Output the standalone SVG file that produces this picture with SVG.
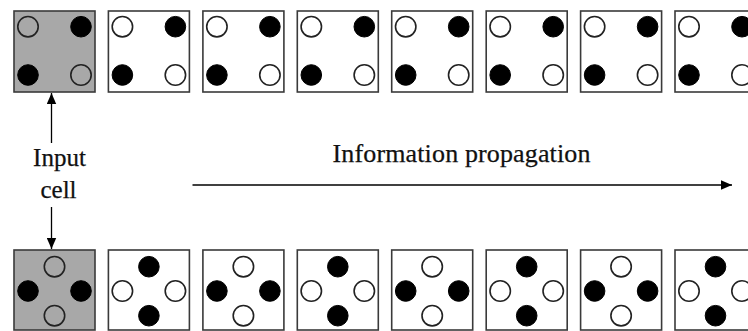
<svg xmlns="http://www.w3.org/2000/svg" width="748" height="331" viewBox="0 0 748 331">
<defs>
<style>
.box{fill:#fff;stroke:#3a3a3a;stroke-width:1.6}
.box.in{fill:#a8a8a8}
.o{fill:none;stroke:#222;stroke-width:1.6}
.f{fill:#000;stroke:#000;stroke-width:1}
.lbl{font-family:"Liberation Serif","Times New Roman",serif;fill:#111;stroke:#111;stroke-width:0.25}
.ln{stroke:#000;stroke-width:1.3;fill:none}
</style>
<marker id="ah" viewBox="0 0 11 10" refX="11" refY="5" markerWidth="11" markerHeight="10" markerUnits="userSpaceOnUse" orient="auto">
<path d="M0,0.3 L11,5 L0,9.7 Z" fill="#000"/>
</marker>
</defs>
<rect width="748" height="331" fill="#fff"/>
<g id="top-row">
<g id="t1"><rect class="box in" x="14" y="11" width="81" height="81"/><circle class="o" cx="28" cy="26.7" r="10.2"/><circle class="f" cx="81" cy="26.7" r="10.3"/><circle class="f" cx="28" cy="75" r="10.3"/><circle class="o" cx="81" cy="75" r="10.2"/></g>
<g id="t2"><rect class="box" x="108.4" y="11" width="81" height="81"/><circle class="o" cx="122.4" cy="26.7" r="10.2"/><circle class="f" cx="175.4" cy="26.7" r="10.3"/><circle class="f" cx="122.4" cy="75" r="10.3"/><circle class="o" cx="175.4" cy="75" r="10.2"/></g>
<g id="t3"><rect class="box" x="202.9" y="11" width="81" height="81"/><circle class="o" cx="216.9" cy="26.7" r="10.2"/><circle class="f" cx="269.9" cy="26.7" r="10.3"/><circle class="f" cx="216.9" cy="75" r="10.3"/><circle class="o" cx="269.9" cy="75" r="10.2"/></g>
<g id="t4"><rect class="box" x="297.3" y="11" width="81" height="81"/><circle class="o" cx="311.3" cy="26.7" r="10.2"/><circle class="f" cx="364.3" cy="26.7" r="10.3"/><circle class="f" cx="311.3" cy="75" r="10.3"/><circle class="o" cx="364.3" cy="75" r="10.2"/></g>
<g id="t5"><rect class="box" x="391.7" y="11" width="81" height="81"/><circle class="o" cx="405.7" cy="26.7" r="10.2"/><circle class="f" cx="458.7" cy="26.7" r="10.3"/><circle class="f" cx="405.7" cy="75" r="10.3"/><circle class="o" cx="458.7" cy="75" r="10.2"/></g>
<g id="t6"><rect class="box" x="486.2" y="11" width="81" height="81"/><circle class="o" cx="500.2" cy="26.7" r="10.2"/><circle class="f" cx="553.2" cy="26.7" r="10.3"/><circle class="f" cx="500.2" cy="75" r="10.3"/><circle class="o" cx="553.2" cy="75" r="10.2"/></g>
<g id="t7"><rect class="box" x="580.6" y="11" width="81" height="81"/><circle class="o" cx="594.6" cy="26.7" r="10.2"/><circle class="f" cx="647.6" cy="26.7" r="10.3"/><circle class="f" cx="594.6" cy="75" r="10.3"/><circle class="o" cx="647.6" cy="75" r="10.2"/></g>
<g id="t8"><rect class="box" x="675" y="11" width="81" height="81"/><circle class="o" cx="689" cy="26.7" r="10.2"/><circle class="f" cx="742" cy="26.7" r="10.3"/><circle class="f" cx="689" cy="75" r="10.3"/><circle class="o" cx="742" cy="75" r="10.2"/></g>
</g>
<g id="bottom-row">
<g id="b1"><rect class="box in" x="14" y="250" width="81" height="80"/><circle class="o" cx="54.5" cy="266.7" r="10.2"/><circle class="f" cx="28" cy="291" r="10.3"/><circle class="f" cx="81" cy="291" r="10.3"/><circle class="o" cx="54.5" cy="315.7" r="10.2"/></g>
<g id="b2"><rect class="box" x="108.4" y="250" width="81" height="80"/><circle class="f" cx="148.9" cy="266.7" r="10.3"/><circle class="o" cx="122.4" cy="291" r="10.2"/><circle class="o" cx="175.4" cy="291" r="10.2"/><circle class="f" cx="148.9" cy="315.7" r="10.3"/></g>
<g id="b3"><rect class="box" x="202.9" y="250" width="81" height="80"/><circle class="o" cx="243.4" cy="266.7" r="10.2"/><circle class="f" cx="216.9" cy="291" r="10.3"/><circle class="f" cx="269.9" cy="291" r="10.3"/><circle class="o" cx="243.4" cy="315.7" r="10.2"/></g>
<g id="b4"><rect class="box" x="297.3" y="250" width="81" height="80"/><circle class="f" cx="337.8" cy="266.7" r="10.3"/><circle class="o" cx="311.3" cy="291" r="10.2"/><circle class="o" cx="364.3" cy="291" r="10.2"/><circle class="f" cx="337.8" cy="315.7" r="10.3"/></g>
<g id="b5"><rect class="box" x="391.7" y="250" width="81" height="80"/><circle class="o" cx="432.2" cy="266.7" r="10.2"/><circle class="f" cx="405.7" cy="291" r="10.3"/><circle class="f" cx="458.7" cy="291" r="10.3"/><circle class="o" cx="432.2" cy="315.7" r="10.2"/></g>
<g id="b6"><rect class="box" x="486.2" y="250" width="81" height="80"/><circle class="f" cx="526.7" cy="266.7" r="10.3"/><circle class="o" cx="500.2" cy="291" r="10.2"/><circle class="o" cx="553.2" cy="291" r="10.2"/><circle class="f" cx="526.7" cy="315.7" r="10.3"/></g>
<g id="b7"><rect class="box" x="580.6" y="250" width="81" height="80"/><circle class="o" cx="621.1" cy="266.7" r="10.2"/><circle class="f" cx="594.6" cy="291" r="10.3"/><circle class="f" cx="647.6" cy="291" r="10.3"/><circle class="o" cx="621.1" cy="315.7" r="10.2"/></g>
<g id="b8"><rect class="box" x="675" y="250" width="81" height="80"/><circle class="f" cx="715.5" cy="266.7" r="10.3"/><circle class="o" cx="689" cy="291" r="10.2"/><circle class="o" cx="742" cy="291" r="10.2"/><circle class="f" cx="715.5" cy="315.7" r="10.3"/></g>
</g>
<g id="labels">
<text class="lbl" x="59.5" y="165.5" font-size="25" text-anchor="middle">Input</text>
<text class="lbl" x="58.5" y="198" font-size="25" text-anchor="middle">cell</text>
<text class="lbl" x="332.5" y="162.3" font-size="26" textLength="258" lengthAdjust="spacing">Information propagation</text>
</g>
<g id="connectors">
<line class="ln" x1="51.5" y1="143" x2="51.5" y2="93" marker-end="url(#ah)"/>
<line class="ln" x1="51.5" y1="207" x2="51.5" y2="249" marker-end="url(#ah)"/>
<line class="ln" x1="192.5" y1="185" x2="732" y2="185" marker-end="url(#ah)"/>
</g>
</svg>
